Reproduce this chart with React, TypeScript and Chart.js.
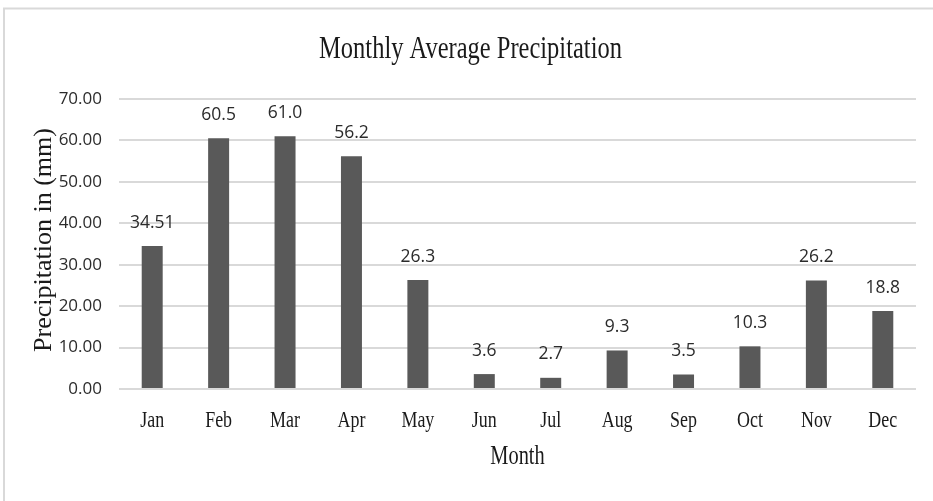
import React, { useEffect, useRef } from "react";
import { Chart, registerables } from "chart.js";

Chart.register(...registerables);

const TITLE = "Monthly Average Precipitation";
const X_TITLE = "Month";
const Y_TITLE = "Precipitation in (mm)";
const months = ["Jan", "Feb", "Mar", "Apr", "May", "Jun", "Jul", "Aug", "Sep", "Oct", "Nov", "Dec"];
const precipitation = [34.51, 60.5, 61.0, 56.2, 26.3, 3.6, 2.7, 9.3, 3.5, 10.3, 26.2, 18.8];
const valueLabels = ["34.51", "60.5", "61.0", "56.2", "26.3", "3.6", "2.7", "9.3", "3.5", "10.3", "26.2", "18.8"];
const yMin = 0;
const yMax = 70;
const yStep = 10;

const SERIF = '"Liberation Serif", "Times New Roman", serif';
const SANS = '"Open Sans", "Noto Sans", sans-serif';

function drawCondensed(ctx: CanvasRenderingContext2D, text: string, cx: number, baseline: number, font: string, sx: number, color: string) {
  ctx.save();
  ctx.font = font;
  ctx.fillStyle = color;
  ctx.textAlign = "center";
  ctx.textBaseline = "alphabetic";
  ctx.translate(cx, baseline);
  ctx.scale(sx, 1);
  ctx.fillText(text, 0, 0);
  ctx.restore();
}

const decorPlugin = {
  id: "decor",
  afterDraw(chart: any) {
    const ctx: CanvasRenderingContext2D = chart.ctx;
    const xs = chart.scales.x;
    const ys = chart.scales.y;
    // outer frame (partially visible)
    ctx.save();
    ctx.strokeStyle = "#d9d9d9";
    ctx.lineWidth = 2;
    ctx.beginPath();
    ctx.moveTo(4, 2000);
    ctx.lineTo(4, 8.5);
    ctx.lineTo(2000, 8.5);
    ctx.stroke();
    ctx.restore();

    // title
    drawCondensed(ctx, TITLE, chart.width / 2 + 4, 58.3, `31px ${SERIF}`, 0.79, "#1a1a1a");

    // x tick labels
    months.forEach((m, i) => {
      drawCondensed(ctx, m, xs.getPixelForTick(i), 426.7, `23px ${SERIF}`, 0.78, "#1a1a1a");
    });

    // x axis title
    drawCondensed(ctx, X_TITLE, (xs.left + xs.right) / 2, 464.3, `26.5px ${SERIF}`, 0.77, "#1a1a1a");

    // y axis title
    ctx.save();
    ctx.font = `26px ${SERIF}`;
    ctx.fillStyle = "#1a1a1a";
    ctx.textAlign = "center";
    ctx.textBaseline = "alphabetic";
    ctx.translate(50.5, (ys.top + ys.bottom) / 2 - 4);
    ctx.rotate(-Math.PI / 2);
    ctx.fillText(Y_TITLE, 0, 0);
    ctx.restore();

    // value labels
    const meta = chart.getDatasetMeta(0);
    ctx.save();
    ctx.font = `17.5px ${SANS}`;
    ctx.fillStyle = "#2b2b2b";
    ctx.textAlign = "center";
    ctx.textBaseline = "alphabetic";
    meta.data.forEach((el: any, i: number) => {
      ctx.fillText(valueLabels[i], el.x, el.y - 18.5);
    });
    ctx.restore();
  },
};

export default function App() {
  const ref = useRef<HTMLCanvasElement | null>(null);
  useEffect(() => {
    if (!ref.current) return;
    const chart = new Chart(ref.current, {
      type: "bar",
      data: {
        labels: months,
        datasets: [
          {
            data: precipitation,
            backgroundColor: "#595959",
            borderWidth: 0,
            barPercentage: 0.316,
            categoryPercentage: 1,
          },
        ],
      },
      options: {
        responsive: false,
        animation: false,
        devicePixelRatio: 1,
        layout: { padding: { top: 99, right: 17, left: 0, bottom: 0 } },
        plugins: {
          legend: { display: false },
          title: { display: false },
          tooltip: { enabled: false },
        },
        scales: {
          x: {
            grid: { display: false },
            border: { display: false },
            ticks: { display: false },
            afterFit: (s: any) => {
              s.height = 112;
            },
          },
          y: {
            min: yMin,
            max: yMax,
            grid: { color: "#d9d9d9", lineWidth: 2, drawTicks: false },
            border: { display: false },
            ticks: {
              stepSize: yStep,
              padding: 17,
              color: "#2b2b2b",
              font: { family: SANS, size: 17 },
              callback: (v: any) => Number(v).toFixed(2),
            },
            afterFit: (s: any) => {
              s.width = 119;
            },
          },
        },
      },
      plugins: [decorPlugin],
    });
    return () => chart.destroy();
  }, []);
  return (
    <div style={{ position: "fixed", left: 0, top: 0, width: 933, height: 501, background: "#fff" }}>
      <canvas ref={ref} width={933} height={501} />
    </div>
  );
}
